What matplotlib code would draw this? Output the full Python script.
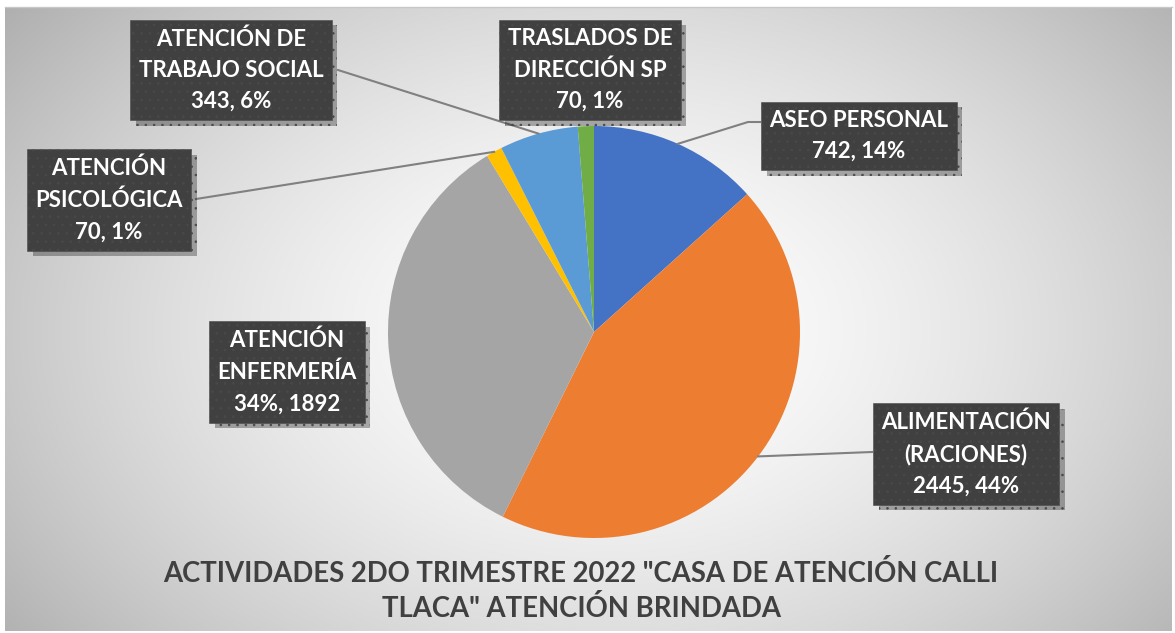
import matplotlib.pyplot as plt
import matplotlib.patheffects as pe
import numpy as np

plt.rcParams['font.family'] = ['Lato', 'DejaVu Sans']
plt.rcParams['hatch.linewidth'] = 0.6

categories = ['ASEO PERSONAL', 'ALIMENTACIÓN\n(RACIONES)', 'ATENCIÓN\nENFERMERÍA',
              'ATENCIÓN\nPSICOLÓGICA', 'ATENCIÓN DE\nTRABAJO SOCIAL', 'TRASLADOS DE\nDIRECCIÓN SP']
values = [742, 2445, 1892, 70, 343, 70]
value_texts = ['742, 14%', '2445, 44%', '34%, 1892', '70, 1%', '343, 6%', '70, 1%']
colors = ['#4472C4', '#ED7D31', '#A5A5A5', '#FFC000', '#5B9BD5', '#70AD47']
title = 'ACTIVIDADES 2DO TRIMESTRE 2022 "CASA DE ATENCIÓN CALLI\nTLACA" ATENCIÓN BRINDADA'

W, H = 1175, 633
fig = plt.figure(figsize=(W / 100, H / 100), dpi=100)
ax = fig.add_axes([0, 0, 1, 1])

# chart-area background: radial gradient, white in the middle
xx, yy = np.meshgrid(np.linspace(5, 1172, 600), np.linspace(7, 631, 320))
r = np.sqrt(((xx - 610) / 680.0) ** 2 + ((yy - 330) / 470.0) ** 2)
shade = 1 - 0.26 * np.clip(r, 0, 1.3) ** 1.6
bg = np.dstack([shade, shade, shade])
ax.imshow(bg, extent=[5, 1172, H - 631, H - 7], origin='upper', aspect='auto', zorder=0)
ax.plot([5, 1172], [H - 7, H - 7], color='#c8c8c8', lw=1, zorder=1)

# pie, clockwise from 12 o'clock
cx, cy, rad = 594, H - 332, 206
wedges, _ = ax.pie(values, colors=colors, startangle=90, counterclock=False,
                   center=(cx, cy), radius=rad, frame=True,
                   wedgeprops=dict(linewidth=0))
ax.set_xlim(0, W)
ax.set_ylim(0, H)
ax.set_aspect('equal')
ax.axis('off')

# label boxes (pixel centres) and where the leader line leaves the box
label_pos = [(859, 136), (966, 454), (287, 372), (109, 200), (231, 70), (590, 70)]
line_start = [(760, 122), (872, 452), None, (196, 199), (338, 70), None]

total = float(sum(values))
cum = 0
for i in range(len(values)):
    mid = (cum + values[i] / 2.0) / total * 2 * np.pi
    cum += values[i]
    px = cx + rad * np.sin(mid)
    py = cy + rad * np.cos(mid)
    if line_start[i] is not None:
        sx, sy = line_start[i]
        if i == 0:
            ax.plot([sx, sx - 12, px], [H - sy, H - sy, py], color='#808080', lw=1.5, zorder=3)
        else:
            ax.plot([sx, px], [H - sy, py], color='#808080', lw=1.5, zorder=3)
    lx, ly = label_pos[i]
    t = ax.text(lx, H - ly, categories[i] + '\n' + value_texts[i], ha='center', va='center',
                color='white', fontsize=16, fontweight='bold', linespacing=1.6, zorder=5,
                bbox=dict(boxstyle='square,pad=0.37', facecolor='#404040',
                          edgecolor='#494949', hatch='..', linewidth=0.4))
    t.get_bbox_patch().set_path_effects([
        pe.SimplePatchShadow(offset=(4, -4), shadow_rgbFace='black', alpha=0.3),
        pe.Normal()])

ax.text(581, H - 591, title, ha='center', va='center', fontsize=19.8, fontweight='bold',
        color='#404040', linespacing=1.4, zorder=5)

plt.savefig('out.png', dpi=100)
